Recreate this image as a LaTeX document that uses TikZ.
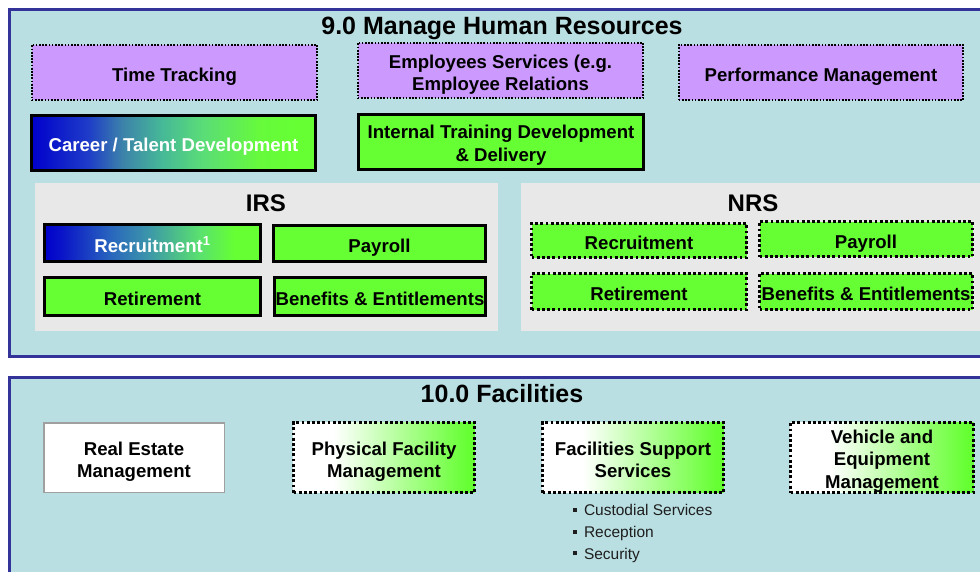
\documentclass[tikz,border=0pt]{standalone}
\usepackage{fontspec}
\setmainfont{Liberation Sans}
\definecolor{navy}{RGB}{51,51,153}
\definecolor{panelbg}{RGB}{186,223,226}
\definecolor{graybg}{RGB}{232,232,232}
\definecolor{lav}{RGB}{204,153,255}
\definecolor{lime}{RGB}{102,255,51}
\definecolor{deepblue}{RGB}{0,0,204}
\definecolor{cA}{RGB}{30,60,200}
\definecolor{cB}{RGB}{60,130,170}
\definecolor{cC}{RGB}{70,185,150}
\definecolor{cD}{RGB}{90,220,120}
\definecolor{cE}{RGB}{102,250,60}
\definecolor{rA}{RGB}{10,20,200}
\definecolor{rB}{RGB}{40,100,190}
\definecolor{rC}{RGB}{60,150,170}
\definecolor{rD}{RGB}{90,225,110}
\definecolor{realedge}{RGB}{160,160,160}
\definecolor{bullettext}{RGB}{30,30,30}
\pgfdeclarehorizontalshading{careershade}{100bp}{color(0bp)=(deepblue); color(25bp)=(deepblue); color(35bp)=(cA); color(41bp)=(cB); color(48bp)=(cC); color(55bp)=(cD); color(65bp)=(cE); color(72bp)=(lime); color(100bp)=(lime)}
\pgfdeclarehorizontalshading{recrshade}{100bp}{color(0bp)=(deepblue); color(25bp)=(deepblue); color(29bp)=(rA); color(40bp)=(rB); color(49bp)=(rC); color(61bp)=(rD); color(69bp)=(lime); color(100bp)=(lime)}
\pgfdeclarehorizontalshading{whitegreen}{100bp}{color(0bp)=(white); color(25bp)=(white); color(36bp)=(white); color(73bp)=(lime); color(100bp)=(lime)}
\newcommand\bxfont{\fontsize{18.6}{22.5}\selectfont\bfseries}
\newcommand\ttlfont{\fontsize{25}{30}\selectfont\bfseries}
\newcommand\subfont{\fontsize{24}{28}\selectfont\bfseries}
\newcommand\blfont{\fontsize{15.5}{22}\selectfont}
\newcommand\sqbullet{\raisebox{4.2pt}{\rule{4pt}{4pt}}\hspace{7.5pt}}
\newcommand\topstrut{\rule{0pt}{23.4pt}}
\newcommand\midstrut{\rule{0pt}{21.4pt}}
\newcommand\lowstrut{\rule{0pt}{20.4pt}}
\newcommand\botstrut{\rule[-5pt]{0pt}{5pt}}
\newcommand\shortbot{\rule[-4pt]{0pt}{4pt}}
\begin{document}
\begin{tikzpicture}[x=1pt,y=-1pt,
  every node/.style={inner sep=0pt, outer sep=0pt},
  txt/.style={font=\bxfont, align=center, text=black},
  purplebox/.style={txt, draw=black, fill=lav, line width=1.7pt, dash pattern=on 1.7pt off 1.5pt},
  solidbox/.style={txt, draw=black, fill=lime, line width=3pt},
  dotbox/.style={txt, draw=black, fill=lime, line width=2.8pt, dash pattern=on 2.8pt off 2.4pt},
  facbox/.style={txt, draw=black, shade, shading=whitegreen, line width=2.8pt, dash pattern=on 2.8pt off 2.4pt},
  section/.style={draw=navy, line width=3pt, fill=panelbg},
  subpanel/.style={fill=graybg},
  ttl/.style={font=\ttlfont, anchor=base},
  subttl/.style={font=\subfont, anchor=base},
  bl/.style={font=\blfont, text=bullettext, anchor=base west}]
\path[use as bounding box] (0,0) rectangle (980,571);
\clip (0,0) rectangle (980,571);
\fill[white] (0,0) rectangle (980,571);
% section frames
\draw[section] (9.5,9.5) rectangle (995,356);
\draw[section] (9.5,377) rectangle (995,590);
\fill[subpanel] (35,183) rectangle (498,331);
\fill[subpanel] (521,183) rectangle (990,331);
% titles
\node[ttl] (t9) at (502,34) {9.0 Manage Human Resources};
\node[subttl] (irs) at (266,211) {IRS};
\node[subttl] (nrs) at (753,211) {NRS};
\node[ttl] (t10) at (502,402) {10.0 Facilities};
% HR top row
\node[purplebox, minimum width=285.5, minimum height=55.5] (tt) at (174.5,72.5) {\topstrut Time Tracking\botstrut};
\node[purplebox, minimum width=285.5, minimum height=55.5] (es) at (500.5,70.5) {\topstrut Employees Services (e.g.\\Employee Relations\botstrut};
\node[purplebox, minimum width=284.5, minimum height=55.5] (pm) at (821,72.5) {\topstrut Performance Management\botstrut};
% HR second row
\node[txt, draw=black, line width=3pt, shade, shading=careershade, text=white, minimum width=284, minimum height=55] (ctd) at (173.5,143) {\midstrut Career / Talent Development\botstrut};
\node[solidbox, minimum width=285, minimum height=55] (itd) at (501,142) {\midstrut Internal Training Development\\\& Delivery\botstrut};
% IRS
\node[txt, draw=black, line width=3pt, shade, shading=recrshade, text=white, minimum width=216, minimum height=37] (irec) at (152.5,243) {\topstrut Recruitment\textsuperscript{1}\botstrut};
\node[solidbox, minimum width=212, minimum height=36] (ipay) at (379.5,243.5) {\topstrut Payroll\botstrut};
\node[solidbox, minimum width=216, minimum height=38] (iret) at (152.5,296.5) {\topstrut Retirement\botstrut};
\node[solidbox, minimum width=211, minimum height=38] (iben) at (380,296.5) {\topstrut Benefits \& Entitlements\botstrut};
% NRS
\node[dotbox, minimum width=215, minimum height=34] (nrec) at (639,240.5) {\topstrut Recruitment\botstrut};
\node[dotbox, minimum width=213, minimum height=35] (npay) at (866,239) {\topstrut Payroll\botstrut};
\node[dotbox, minimum width=215, minimum height=36] (nret) at (639,291.5) {\topstrut Retirement\botstrut};
\node[dotbox, minimum width=213, minimum height=36] (nben) at (866,291.5) {\topstrut Benefits \& Entitlements\botstrut};
% Facilities
\node[txt, draw=realedge, line width=1.5pt, fill=white, minimum width=180.5, minimum height=69.5] (rem) at (134,457.5) {\topstrut Real Estate\\Management\botstrut};
\node[facbox, minimum width=181, minimum height=70] (pfm) at (384,457.5) {\topstrut Physical Facility\\Management\botstrut};
\node[facbox, minimum width=181, minimum height=70] (fss) at (633,457.5) {\topstrut Facilities Support\\Services\botstrut};
\node[facbox, minimum width=183, minimum height=70] (vem) at (882,457.5) {\lowstrut Vehicle and\\Equipment\\Management\shortbot};
% bullets
\node[bl] (b1) at (572.5,515.7) {\sqbullet Custodial Services};
\node[bl] (b2) at (572.5,537.7) {\sqbullet Reception};
\node[bl] (b3) at (572.5,559.5) {\sqbullet Security};
\end{tikzpicture}
\end{document}
